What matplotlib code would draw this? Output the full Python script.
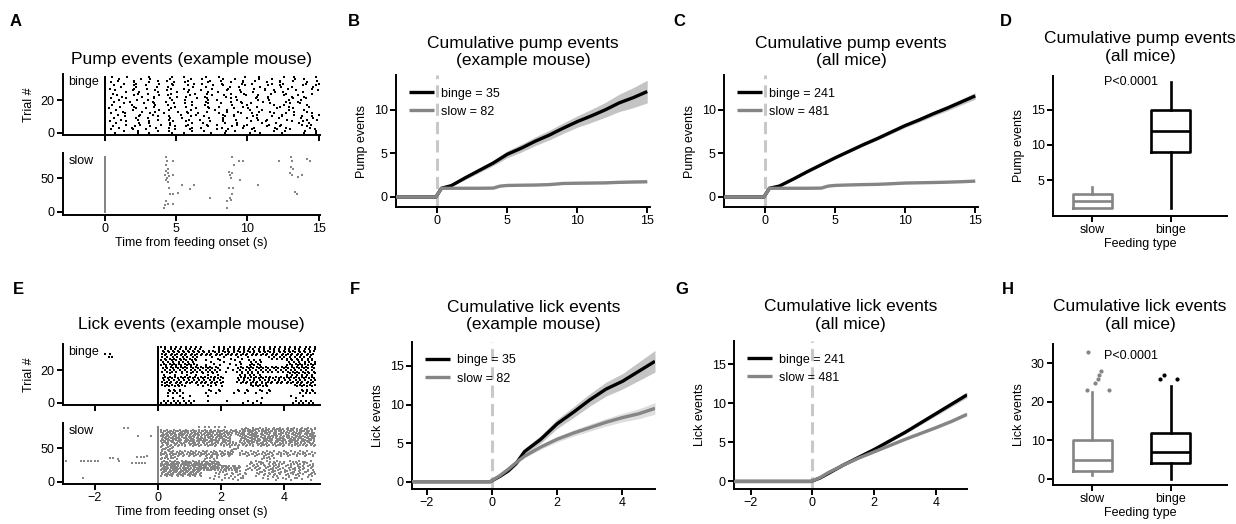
import numpy as np
import matplotlib.pyplot as plt

plt.rcParams['font.family'] = ['Liberation Sans', 'DejaVu Sans']
plt.rcParams['axes.linewidth'] = 1.4
plt.rcParams['xtick.major.width'] = 1.4
plt.rcParams['ytick.major.width'] = 1.4
plt.rcParams['xtick.major.size'] = 4
plt.rcParams['ytick.major.size'] = 4
plt.rcParams['xtick.labelsize'] = 9
plt.rcParams['ytick.labelsize'] = 9
plt.rcParams['axes.labelsize'] = 9

BLACK = "#000000"
GRAY = "#858585"
SHADE_BINGE = "#c4c4c4"
SHADE_SLOW = "#dedede"
DASH = "#c8c8c8"

# ---- A: pump raster (example mouse) ----
# binge trials: first pump after onset and pump interval per trial (s)
pump_binge_first = [0.7, 1.3, 0.4, 1.0, 0.55, 1.45, 0.8, 0.35, 1.15, 0.6, 1.4, 0.9,
                    0.45, 1.25, 0.75, 0.3, 1.05, 0.5, 1.35, 0.65, 0.95, 0.4, 1.2, 0.85,
                    0.55, 1.45, 0.7, 0.35, 1.1, 0.6, 1.3, 0.45, 0.9, 1.0, 0.5]
pump_binge_period = [1.30, 1.15, 1.42, 1.20, 1.34, 1.10, 1.25, 1.38, 1.16, 1.29,
                     1.12, 1.40, 1.26, 1.18, 1.33, 1.44, 1.21, 1.37, 1.14, 1.31,
                     1.19, 1.41, 1.17, 1.28, 1.36, 1.13, 1.27, 1.39, 1.22, 1.32,
                     1.15, 1.35, 1.24, 1.20, 1.30]
# irregularity of successive intervals (fraction of interval), cycled
interval_jitter = [0.0, 0.22, -0.14, 0.09, -0.25, 0.17, -0.06, 0.28, -0.19]
# slow trials: individual pumps (time s, trial)
pump_slow_t = [4.3, 4.35, 4.25, 4.4, 4.3, 4.45, 4.2, 4.35, 4.5, 4.25, 4.77, 4.8,
               4.45, 4.47, 4.55, 4.77, 5.1, 4.3, 4.4, 4.2, 4.75, 4.15, 5.42, 5.94,
               6.22, 7.35,
               8.94, 9.39, 9.7, 9.05, 8.7, 8.8, 8.95, 8.85, 9.45, 8.7, 9.0, 8.95,
               8.8, 8.57, 8.85, 8.6, 10.73,
               12.2, 13.07, 13.1, 13.07, 13.2, 13.0, 13.15, 13.55, 13.85, 14.2,
               14.4, 13.35, 13.5]
pump_slow_trial = [81, 75, 69, 64, 60, 57, 54, 51, 53, 47, 75, 55,
                   45, 36, 27, 27, 28, 16, 12, 10, 11, 6, 40, 34,
                   40, 20,
                   81, 75, 75, 70, 59, 54, 57, 51, 47, 36, 36, 27,
                   20, 16, 18, 6, 40,
                   75, 81, 75, 66, 63, 57, 54, 52, 54, 78, 75, 29, 27]

# ---- E: lick raster (example mouse) ----
# lick bouts: (first trial, last trial, start s, end s, lick interval s)
lick_binge_blocks = [
    (33, 34, 0.1, 1.5, 0.16), (33, 34, 1.8, 5.0, 0.16),
    (29, 32, 0.1, 5.0, 0.16),
    (27, 28, 0.1, 1.3, 0.16), (27, 28, 1.6, 2.9, 0.4), (27, 28, 3.5, 5.0, 0.16),
    (23, 26, 0.1, 1.3, 0.16), (23, 26, 1.5, 2.8, 0.45), (23, 26, 2.9, 3.3, 0.16),
    (23, 26, 4.1, 5.0, 0.16),
    (19, 22, 0.1, 2.0, 0.16), (19, 22, 2.1, 2.4, 0.35), (19, 22, 2.5, 5.0, 0.16),
    (17, 18, 0.2, 2.0, 0.35), (17, 18, 2.6, 3.3, 0.16), (17, 18, 4.1, 5.0, 0.16),
    (12, 16, 0.1, 2.1, 0.16), (12, 16, 2.5, 5.0, 0.16),
    (10, 11, 0.1, 0.95, 0.16), (10, 11, 1.2, 2.2, 0.3), (10, 11, 2.9, 3.5, 0.16),
    (10, 11, 4.3, 5.0, 0.16),
    (6, 8, 0.3, 0.8, 0.16), (6, 8, 1.5, 2.1, 0.3), (6, 8, 2.4, 2.9, 0.3),
    (6, 8, 3.1, 3.7, 0.3), (6, 8, 4.5, 5.0, 0.16),
    (3, 4, 0.2, 1.2, 0.35), (3, 4, 4.1, 4.6, 0.35),
    (0, 1, 0.1, 1.2, 0.16), (0, 1, 2.7, 3.4, 0.3), (0, 1, 4.3, 5.0, 0.16),
]
lick_binge_extra_t = [-1.67, -1.51, -1.55, -1.46, 1.6, 2.2, 3.3, 1.6]
lick_binge_extra_trial = [30, 30, 28, 28, 1, 1, 3, 4]

lick_slow_blocks = [
    (81, 81, 1.3, 2.2, 0.16), (78, 80, 2.6, 5.0, 0.22),
    (70, 77, 0.1, 5.0, 0.2),
    (60, 69, 0.1, 2.3, 0.2), (60, 69, 2.6, 5.0, 0.2),
    (53, 59, 0.1, 5.0, 0.24),
    (47, 51, 0.1, 0.5, 0.2), (47, 51, 2.3, 2.6, 0.3),
    (39, 45, 0.1, 2.4, 0.18), (39, 45, 2.6, 5.0, 0.26),
    (34, 37, 0.1, 0.6, 0.25), (34, 37, 1.5, 1.9, 0.3), (34, 37, 3.3, 3.7, 0.3),
    (25, 31, 0.1, 2.0, 0.18), (25, 31, 2.9, 5.0, 0.35),
    (17, 24, 0.1, 2.6, 0.18), (17, 24, 2.8, 5.0, 0.35),
    (9, 16, 0.1, 1.4, 0.18), (9, 16, 1.8, 2.8, 0.45), (9, 16, 3.1, 5.0, 0.35),
    (3, 7, 1.6, 2.8, 0.55), (3, 7, 3.3, 4.9, 0.55),
]
# per-trial lick phase (fraction of interval), cycled over trials
lick_phase = [0.0, 0.55, 0.2, 0.8, 0.35, 0.95, 0.1, 0.65, 0.45, 0.05, 0.75, 0.3,
              0.9, 0.15, 0.6, 0.4, 0.85]
lick_slow_extra_t = [-2.89, -2.42, -2.32, -2.21, -2.10, -1.99, -1.88, -1.50, -1.40,
                     -1.26, -1.22, -1.05, -0.95, -0.62, -0.22, -0.80, -0.70, -0.60,
                     -0.50, -0.40, -0.64, -0.54, -0.44, -0.34, -2.35]
lick_slow_extra_trial = [31, 31, 31, 31, 31, 31, 31, 36, 36,
                         34, 31, 80, 80, 68, 68, 28, 28, 28,
                         28, 28, 37, 37, 37, 38, 6]

N_BINGE = 35
N_SLOW = 82

# ---- B, C: cumulative pump events ----
t_pump = [-3, -0.1, 0.3, 1, 2, 3, 4, 4.5, 5, 6, 7, 8, 9, 10, 11, 12, 13, 14, 15]
pump_ex_binge = [0, 0, 1.0, 1.3, 2.2, 3.05, 3.9, 4.4, 4.9, 5.6, 6.4, 7.1, 7.9,
                 8.65, 9.3, 10.0, 10.8, 11.4, 12.1]
pump_ex_binge_sem = [0, 0, 0.05, 0.1, 0.2, 0.25, 0.3, 0.35, 0.4, 0.45, 0.5, 0.55,
                     0.6, 0.65, 0.75, 0.85, 1.0, 1.15, 1.3]
pump_ex_slow = [0, 0, 1.0, 1.0, 1.0, 1.0, 1.02, 1.25, 1.32, 1.35, 1.37, 1.42,
                1.55, 1.58, 1.6, 1.62, 1.68, 1.72, 1.75]
pump_ex_slow_sem = [0, 0, 0.02, 0.02, 0.02, 0.03, 0.04, 0.06, 0.07, 0.07, 0.08,
                    0.08, 0.09, 0.09, 0.1, 0.1, 0.11, 0.11, 0.12]
pump_all_binge = [0, 0, 1.0, 1.25, 2.05, 2.9, 3.7, 4.1, 4.5, 5.25, 6.0, 6.7,
                  7.45, 8.2, 8.85, 9.55, 10.2, 10.9, 11.6]
pump_all_binge_sem = [0, 0, 0.02, 0.04, 0.06, 0.08, 0.1, 0.11, 0.12, 0.14, 0.16,
                      0.18, 0.2, 0.22, 0.25, 0.28, 0.31, 0.34, 0.38]
pump_all_slow = [0, 0, 1.0, 1.0, 1.0, 1.0, 1.02, 1.25, 1.33, 1.38, 1.42, 1.45,
                 1.52, 1.6, 1.63, 1.66, 1.7, 1.75, 1.82]
pump_all_slow_sem = [0, 0, 0.01, 0.01, 0.01, 0.02, 0.02, 0.03, 0.03, 0.03, 0.04,
                     0.04, 0.04, 0.05, 0.05, 0.05, 0.06, 0.06, 0.06]

# ---- F, G: cumulative lick events ----
t_lick = [-2.6, -0.05, 0.25, 0.5, 0.75, 1.0, 1.5, 2.0, 2.5, 3.0, 3.5, 4.0, 4.5, 5.0]
lick_ex_binge = [0, 0, 0.7, 1.4, 2.4, 3.9, 5.5, 7.5, 9.0, 10.6, 12.0, 13.0, 14.3, 15.6]
lick_ex_binge_sem = [0, 0, 0.1, 0.2, 0.3, 0.4, 0.5, 0.6, 0.7, 0.8, 0.9, 1.0, 1.2, 1.4]
lick_ex_slow = [0, 0, 0.8, 1.6, 2.5, 3.3, 4.5, 5.5, 6.3, 7.0, 7.7, 8.3, 8.8, 9.5]
lick_ex_slow_sem = [0, 0, 0.05, 0.1, 0.15, 0.2, 0.3, 0.35, 0.4, 0.45, 0.5, 0.55,
                    0.65, 0.75]
lick_all_binge = [0, 0, 0.45, 1.0, 1.55, 2.1, 3.1, 4.1, 5.2, 6.3, 7.5, 8.7, 9.9, 11.1]
lick_all_binge_sem = [0, 0, 0.03, 0.05, 0.07, 0.09, 0.12, 0.15, 0.18, 0.21, 0.24,
                      0.27, 0.31, 0.35]
lick_all_slow = [0, 0, 0.5, 1.1, 1.6, 2.1, 3.0, 3.8, 4.6, 5.4, 6.15, 6.9, 7.7, 8.6]
lick_all_slow_sem = [0, 0, 0.02, 0.03, 0.04, 0.05, 0.07, 0.09, 0.11, 0.13, 0.15,
                     0.17, 0.19, 0.22]

# ---- D, H: box plots (slow, binge) ----
feeding_types = ["slow", "binge"]
pump_box_q1 = [1, 9]
pump_box_med = [2, 12]
pump_box_q3 = [3, 15]
pump_box_lo = [1, 1]
pump_box_hi = [4, 19]

lick_box_q1 = [2, 4]
lick_box_med = [5, 7]
lick_box_q3 = [10, 12]
lick_box_lo = [1, 0]
lick_box_hi = [22.5, 24]
lick_slow_outliers = [33, 23, 23, 25, 26, 27, 28]
lick_slow_outlier_dx = [-0.055, -0.06, 0.21, 0.04, 0.07, 0.09, 0.115]
lick_binge_outliers = [26, 27, 26]
lick_binge_outlier_dx = [-0.13, -0.09, 0.085]


W, H = 1236, 524
fig = plt.figure(figsize=(W / 100, H / 100), dpi=100)


def px_axes(left, top, right, bottom):
    return fig.add_axes([left / W, 1 - bottom / H, (right - left) / W, (bottom - top) / H])


def clean(ax):
    ax.spines[["top", "right"]].set_visible(False)
    ax.tick_params(direction="out", pad=2)


def raster(ax, t, trial, color, s=3.2):
    ax.scatter(t, trial, s=s, marker="s", c=color, linewidths=0)


def train(t0, t1, step, tr, frac=0.4):
    # events from t0 to t1 at the given interval, with cycled irregularity
    out, k, t = [], 0, t0
    while t <= t1 + 1e-9:
        out.append(t)
        k += 1
        t = t0 + k * step + frac * step * interval_jitter[(k + tr) % len(interval_jitter)]
    return out


def block_events(blocks, n_trials):
    ts, ys = [], []
    for tr in range(n_trials):          # onset event at t = 0 for every trial
        ts.append(0.0)
        ys.append(tr)
    for lo, hi, t0, t1, step in blocks:
        for tr in range(lo, hi + 1):
            ev = train(t0 + step * lick_phase[tr % len(lick_phase)], t1, step, tr)
            ts.extend(ev)
            ys.extend([tr] * len(ev))
    return ts, ys


def cumulative(ax, t, binge, binge_sem, slow, slow_sem, n_binge, n_slow):
    t = np.asarray(t)
    for m, s, c, sc in [(binge, binge_sem, BLACK, SHADE_BINGE),
                        (slow, slow_sem, GRAY, SHADE_SLOW)]:
        m, s = np.asarray(m), np.asarray(s)
        ax.fill_between(t, m - s, m + s, color=sc, lw=0, zorder=2)
    ax.axvline(0, color=DASH, lw=2.2, ls=(0, (4, 2)), zorder=1)
    lb, = ax.plot(t, binge, color=BLACK, lw=2.4, zorder=3, solid_capstyle="butt")
    ls, = ax.plot(t, slow, color=GRAY, lw=2.4, zorder=4, solid_capstyle="butt")
    ax.legend([lb, ls], [f"binge = {n_binge}", f"slow = {n_slow}"], loc="upper left",
              frameon=False, fontsize=9, handlelength=2.0, handletextpad=0.6,
              borderaxespad=0.6)
    clean(ax)


def boxes(ax, q1, med, q3, lo, hi):
    for i, col in enumerate([GRAY, BLACK]):
        st = dict(med=med[i], q1=q1[i], q3=q3[i], whislo=lo[i], whishi=hi[i], fliers=[])
        ax.bxp([st], positions=[i], widths=0.5, showcaps=False, showfliers=False,
               boxprops=dict(color=col, lw=1.9), medianprops=dict(color=col, lw=1.9),
               whiskerprops=dict(color=col, lw=1.9))
    ax.set_xticks([0, 1])
    ax.set_xticklabels(feeding_types)
    ax.set_xlim(-0.5, 1.72)
    ax.set_xlabel("Feeding type", labelpad=1)
    clean(ax)


# ---------- A ----------
axA1 = px_axes(63, 74, 320, 135)
ts, ys = [], []
for tr, (f, p) in enumerate(zip(pump_binge_first, pump_binge_period)):
    ev = [0.0] + train(f, 15.05, p, tr, frac=1.0)
    ts.extend(ev)
    ys.extend([tr] * len(ev))
raster(axA1, ts, ys, BLACK, s=3.6)
axA1.set_xlim(-2.95, 15.1)
axA1.set_ylim(-1.4, 36)
axA1.set_xticks([0, 5, 10, 15])
axA1.set_xticklabels([])
axA1.set_yticks([0, 20])
axA1.set_ylabel("Trial #")
axA1.text(0.022, 0.97, "binge", transform=axA1.transAxes, va="top", fontsize=9)
axA1.set_title("Pump events (example mouse)", fontsize=12.5, pad=7)
clean(axA1)

axA2 = px_axes(63, 153, 320, 215)
raster(axA2, [0.0] * N_SLOW, list(range(N_SLOW)), GRAY)
raster(axA2, pump_slow_t, pump_slow_trial, GRAY, s=4)
axA2.set_xlim(-2.95, 15.1)
axA2.set_ylim(-5, 87.6)
axA2.set_xticks([0, 5, 10, 15])
axA2.set_yticks([0, 50])
axA2.set_xlabel("Time from feeding onset (s)", labelpad=1)
axA2.text(0.022, 0.97, "slow", transform=axA2.transAxes, va="top", fontsize=9)
clean(axA2)

# ---------- B, C ----------
axB = px_axes(396, 75, 650, 207)
cumulative(axB, t_pump, pump_ex_binge, pump_ex_binge_sem, pump_ex_slow, pump_ex_slow_sem, 35, 82)
axB.set_xlim(-2.95, 15.2)
axB.set_ylim(-1.15, 14)
axB.set_xticks([0, 5, 10, 15])
axB.set_yticks([0, 5, 10])
axB.set_ylabel("Pump events")
axB.set_title("Cumulative pump events\n(example mouse)", fontsize=12.5, pad=7)

axC = px_axes(724, 75, 978, 207)
cumulative(axC, t_pump, pump_all_binge, pump_all_binge_sem, pump_all_slow, pump_all_slow_sem, 241, 481)
axC.set_xlim(-2.95, 15.2)
axC.set_ylim(-1.15, 14)
axC.set_xticks([0, 5, 10, 15])
axC.set_yticks([0, 5, 10])
axC.set_ylabel("Pump events")
axC.set_title("Cumulative pump events\n(all mice)", fontsize=12.5, pad=7)

# ---------- D ----------
axD = px_axes(1053, 76, 1227, 216)
boxes(axD, pump_box_q1, pump_box_med, pump_box_q3, pump_box_lo, pump_box_hi)
axD.set_ylim(-0.1, 19.8)
axD.set_yticks([5, 10, 15])
axD.set_ylabel("Pump events")
axD.text(0.5, 19.0, "P<0.0001", ha="center", va="center", fontsize=9)
axD.set_title("Cumulative pump events\n(all mice)", fontsize=12.5, pad=11)

# ---------- E ----------
axE1 = px_axes(63, 344, 320, 405)
ts, ys = block_events(lick_binge_blocks, N_BINGE)
raster(axE1, ts, ys, BLACK, s=2.8)
raster(axE1, lick_binge_extra_t, lick_binge_extra_trial, BLACK, s=3.2)
axE1.set_xlim(-3.0, 5.15)
axE1.set_ylim(-1.4, 36)
axE1.set_xticks([-2, 0, 2, 4])
axE1.set_xticklabels([])
axE1.set_yticks([0, 20])
axE1.set_ylabel("Trial #")
axE1.text(0.022, 0.97, "binge", transform=axE1.transAxes, va="top", fontsize=9)
axE1.set_title("Lick events (example mouse)", fontsize=12.5, pad=11)
clean(axE1)

axE2 = px_axes(63, 423, 320, 484)
ts, ys = block_events(lick_slow_blocks, N_SLOW)
raster(axE2, ts, ys, GRAY, s=2.6)
raster(axE2, lick_slow_extra_t, lick_slow_extra_trial, GRAY, s=3.2)
axE2.set_xlim(-3.0, 5.15)
axE2.set_ylim(-3.5, 87.5)
axE2.set_xticks([-2, 0, 2, 4])
axE2.set_yticks([0, 50])
axE2.set_xlabel("Time from feeding onset (s)", labelpad=1)
axE2.text(0.022, 0.97, "slow", transform=axE2.transAxes, va="top", fontsize=9)
clean(axE2)

# ---------- F, G ----------
axF = px_axes(412, 342, 655, 489)
cumulative(axF, t_lick, lick_ex_binge, lick_ex_binge_sem, lick_ex_slow, lick_ex_slow_sem, 35, 82)
axF.set_xlim(-2.45, 5.0)
axF.set_ylim(-0.95, 18.1)
axF.set_xticks([-2, 0, 2, 4])
axF.set_yticks([0, 5, 10, 15])
axF.set_ylabel("Lick events")
axF.set_title("Cumulative lick events\n(example mouse)", fontsize=12.5, pad=9)

axG = px_axes(734, 341, 967, 489)
cumulative(axG, t_lick, lick_all_binge, lick_all_binge_sem, lick_all_slow, lick_all_slow_sem, 241, 481)
axG.set_xlim(-2.54, 5.0)
axG.set_ylim(-0.97, 18)
axG.set_xticks([-2, 0, 2, 4])
axG.set_yticks([0, 5, 10, 15])
axG.set_ylabel("Lick events")
axG.set_title("Cumulative lick events\n(all mice)", fontsize=12.5, pad=9)

# ---------- H ----------
axH = px_axes(1053, 344, 1227, 485)
boxes(axH, lick_box_q1, lick_box_med, lick_box_q3, lick_box_lo, lick_box_hi)
axH.scatter(np.array(lick_slow_outlier_dx) + 0, lick_slow_outliers, s=9, c=GRAY, linewidths=0)
axH.scatter(np.array(lick_binge_outlier_dx) + 1, lick_binge_outliers, s=9, c=BLACK, linewidths=0)
axH.set_ylim(-1.6, 35)
axH.set_yticks([0, 10, 20, 30])
axH.set_ylabel("Lick events")
axH.text(0.5, 32, "P<0.0001", ha="center", va="center", fontsize=9)
axH.set_title("Cumulative lick events\n(all mice)", fontsize=12.5, pad=11)

# panel letters
for letter, x, y in [("A", 10, 14), ("B", 348, 14), ("C", 673, 14), ("D", 1000, 14),
                     ("E", 13, 282), ("F", 350, 282), ("G", 675, 282), ("H", 1002, 282)]:
    fig.text(x / W, 1 - y / H, letter, fontsize=12, fontweight="bold", va="top", ha="left")

fig.savefig("out.png", dpi=100)
